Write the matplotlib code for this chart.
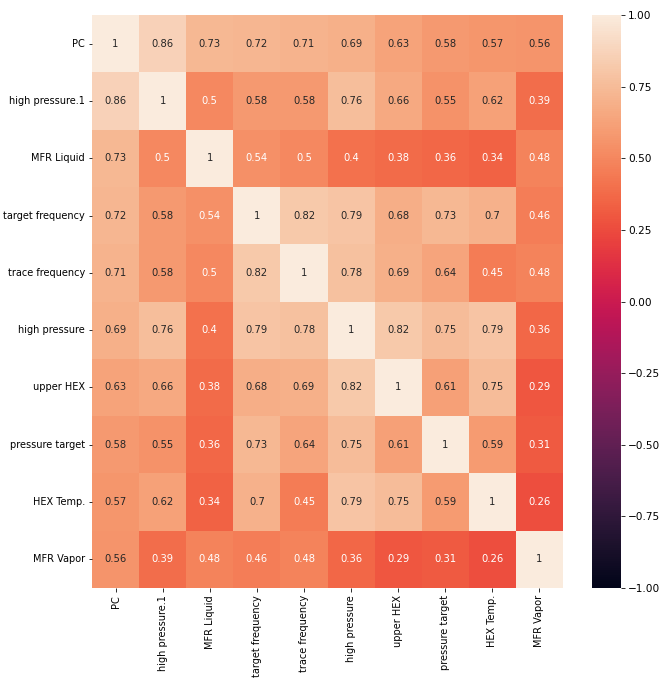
import numpy as np
import matplotlib
matplotlib.use("Agg")
import matplotlib.pyplot as plt
import seaborn as sns

labels = ["PC", "high pressure.1", "MFR Liquid", "target frequency", "trace frequency",
          "high pressure", "upper HEX", "pressure target", "HEX Temp.", "MFR Vapor"]

corr = [
    [1, 0.86, 0.73, 0.72, 0.71, 0.69, 0.63, 0.58, 0.57, 0.56],
    [0.86, 1, 0.5, 0.58, 0.58, 0.76, 0.66, 0.55, 0.62, 0.39],
    [0.73, 0.5, 1, 0.54, 0.5, 0.4, 0.38, 0.36, 0.34, 0.48],
    [0.72, 0.58, 0.54, 1, 0.82, 0.79, 0.68, 0.73, 0.7, 0.46],
    [0.71, 0.58, 0.5, 0.82, 1, 0.78, 0.69, 0.64, 0.45, 0.48],
    [0.69, 0.76, 0.4, 0.79, 0.78, 1, 0.82, 0.75, 0.79, 0.36],
    [0.63, 0.66, 0.38, 0.68, 0.69, 0.82, 1, 0.61, 0.75, 0.29],
    [0.58, 0.55, 0.36, 0.73, 0.64, 0.75, 0.61, 1, 0.59, 0.31],
    [0.57, 0.62, 0.34, 0.7, 0.45, 0.79, 0.75, 0.59, 1, 0.26],
    [0.56, 0.39, 0.48, 0.46, 0.48, 0.36, 0.29, 0.31, 0.26, 1],
]

W, H = 668, 681
fig = plt.figure(figsize=(W / 72, H / 72), dpi=72)
ax = fig.add_axes([92 / W, 1 - 588 / H, 471 / W, 573 / H])
cax = fig.add_axes([592 / W, 1 - 588 / H, 29 / W, 573 / H])

# full labels kept readable (the reference screenshot is cropped at the edges)
sns.heatmap(np.array(corr), vmin=-1, vmax=1, annot=True, ax=ax, cbar_ax=cax,
            xticklabels=labels, yticklabels=labels)
ax.tick_params(labelsize=9.8)
cax.tick_params(labelsize=10.5)

fig.savefig("out.png", dpi=72)
